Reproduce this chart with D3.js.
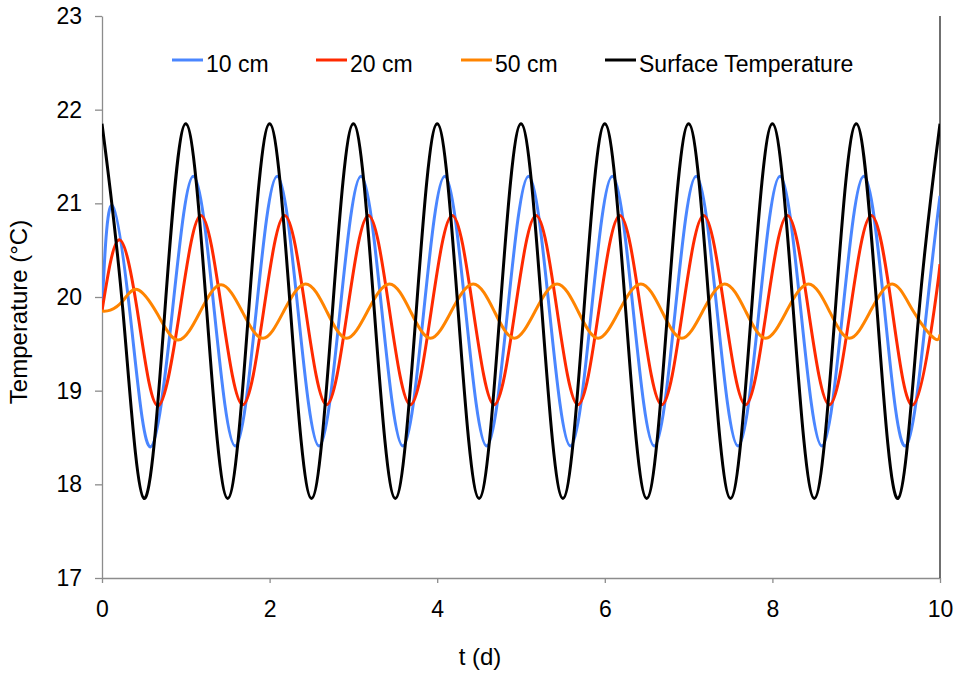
<!DOCTYPE html>
<html lang="en">
<head>
	<meta charset="utf-8" />
	<title>Temperature</title>
	<script type="text/javascript" src="https://d3js.org/d3.v7.min.js"></script>
	<style>
		body { margin: 0; background: #fff; }
		text { font-family: "Liberation Sans", Arial, sans-serif; fill: #000; }
	</style>
</head>
<body>
<div id="content"></div>
<script type="text/javascript">

	// values: [t (d), temperature (°C)]
	var surface = [
		[0,21.85],[0.25,19.85],[0.5,17.85],[0.75,19.85],
		[1,21.85],[1.25,19.85],[1.5,17.85],[1.75,19.85],
		[2,21.85],[2.25,19.85],[2.5,17.85],[2.75,19.85],
		[3,21.85],[3.25,19.85],[3.5,17.85],[3.75,19.85],
		[4,21.85],[4.25,19.85],[4.5,17.85],[4.75,19.85],
		[5,21.85],[5.25,19.85],[5.5,17.85],[5.75,19.85],
		[6,21.85],[6.25,19.85],[6.5,17.85],[6.75,19.85],
		[7,21.85],[7.25,19.85],[7.5,17.85],[7.75,19.85],
		[8,21.85],[8.25,19.85],[8.5,17.85],[8.75,19.85],
		[9,21.85],[9.25,19.85],[9.5,17.85],[9.75,19.85],
		[10,21.85]
	];

	var cm10 = [
		[0,19.85],[0.12,20.98],[0.35,19.7],[0.58,18.40],[0.84,19.85],
		[1.09,21.29],[1.34,19.85],[1.59,18.41],[1.84,19.85],
		[2.09,21.29],[2.34,19.85],[2.59,18.41],[2.84,19.85],
		[3.09,21.29],[3.34,19.85],[3.59,18.41],[3.84,19.85],
		[4.09,21.29],[4.34,19.85],[4.59,18.41],[4.84,19.85],
		[5.09,21.29],[5.34,19.85],[5.59,18.41],[5.84,19.85],
		[6.09,21.29],[6.34,19.85],[6.59,18.41],[6.84,19.85],
		[7.09,21.29],[7.34,19.85],[7.59,18.41],[7.84,19.85],
		[8.09,21.29],[8.34,19.85],[8.59,18.41],[8.84,19.85],
		[9.09,21.29],[9.34,19.85],[9.59,18.41],[9.84,19.85],
		[10,21.08]
	];

	var cm20 = [
		[0,19.85],[0.21,20.61],[0.44,19.75],[0.67,18.84],[0.93,19.86],
		[1.18,20.87],[1.43,19.86],[1.68,18.85],[1.93,19.86],
		[2.18,20.87],[2.43,19.86],[2.68,18.85],[2.93,19.86],
		[3.18,20.87],[3.43,19.86],[3.68,18.85],[3.93,19.86],
		[4.18,20.87],[4.43,19.86],[4.68,18.85],[4.93,19.86],
		[5.18,20.87],[5.43,19.86],[5.68,18.85],[5.93,19.86],
		[6.18,20.87],[6.43,19.86],[6.68,18.85],[6.93,19.86],
		[7.18,20.87],[7.43,19.86],[7.68,18.85],[7.93,19.86],
		[8.18,20.87],[8.43,19.86],[8.68,18.85],[8.93,19.86],
		[9.18,20.87],[9.43,19.86],[9.68,18.85],[9.93,19.86],
		[10,20.35]
	];

	var cm50 = [
		[0,19.85],[0.1,19.86],[0.25,19.96],[0.42,20.08],[0.66,19.82],[0.91,19.54],
		[1.17,19.84],[1.42,20.13],[1.67,19.85],[1.92,19.56],
		[2.17,19.85],[2.43,20.14],[2.68,19.85],[2.92,19.56],
		[3.17,19.85],[3.43,20.14],[3.68,19.85],[3.92,19.56],
		[4.17,19.85],[4.43,20.14],[4.68,19.85],[4.92,19.56],
		[5.17,19.85],[5.43,20.14],[5.68,19.85],[5.92,19.56],
		[6.17,19.85],[6.43,20.14],[6.68,19.85],[6.92,19.56],
		[7.17,19.85],[7.43,20.14],[7.68,19.85],[7.92,19.56],
		[8.17,19.85],[8.43,20.14],[8.68,19.85],[8.92,19.56],
		[9.17,19.85],[9.43,20.14],[9.68,19.85],[9.93,19.56],
		[10,19.6]
	];

	var seriesNames = ["10 cm", "20 cm", "50 cm", "Surface Temperature"];
	var seriesColors = ["#4a86ff", "#ff2a00", "#ff8400", "#000000"];
	var xTicks = [0, 2, 4, 6, 8, 10];
	var yTicks = [17, 18, 19, 20, 21, 22, 23];

	var series = [cm10, cm20, cm50, surface];

	var width = 958, height = 680;
	var margin = {left: 102, right: 18, top: 16, bottom: 102};

	var svg = d3.select("#content")
		.append("svg")
		.attr("width", width)
		.attr("height", height);

	var x = d3.scaleLinear()
		.domain([0, 10])
		.range([margin.left, width - margin.right]);

	var y = d3.scaleLinear()
		.domain([17, 23])
		.range([height - margin.bottom, margin.top]);

	// axes
	svg.append("g")
		.attr("transform", "translate(0," + y(17) + ")")
		.call(d3.axisBottom(x).tickValues(xTicks).tickFormat(d3.format("d"))
			.tickSize(5).tickPadding(18).tickSizeOuter(0));

	svg.append("g")
		.attr("transform", "translate(" + x(0) + ",0)")
		.call(d3.axisLeft(y).tickValues(yTicks).tickFormat(d3.format("d"))
			.tickSize(7).tickPadding(13).tickSizeOuter(0));

	svg.selectAll(".domain, .tick line").attr("stroke", "#8c8c8c").attr("stroke-width", 1.3);
	svg.selectAll(".tick text").style("font-size", "23px").attr("fill", "#000");

	// right edge of the plot area
	svg.append("line")
		.attr("x1", x(10)).attr("x2", x(10))
		.attr("y1", y(23)).attr("y2", y(17))
		.attr("stroke", "#222")
		.attr("stroke-width", 1.3);

	svg.append("clipPath")
		.attr("id", "plot")
		.append("rect")
		.attr("x", x(0)).attr("y", y(23))
		.attr("width", x(10) - x(0))
		.attr("height", y(17) - y(23));

	var line = d3.line()
		.x(function(d) { return x(d[0]); })
		.y(function(d) { return y(d[1]); })
		.curve(d3.curveNatural);

	svg.append("g")
		.attr("clip-path", "url(#plot)")
		.selectAll("path")
		.data(series)
		.enter()
		.append("path")
		.attr("d", line)
		.attr("fill", "none")
		.attr("stroke", function(d, i) { return seriesColors[i]; })
		.attr("stroke-width", 3)
		.attr("stroke-linejoin", "round");

	// legend
	var legendX = [172, 316, 461, 605];
	var legend = svg.append("g")
		.selectAll("g")
		.data(seriesNames)
		.enter()
		.append("g")
		.attr("transform", function(d, i) { return "translate(" + legendX[i] + ",60)"; });

	legend.append("line")
		.attr("x1", 0).attr("x2", 31)
		.attr("stroke", function(d, i) { return seriesColors[i]; })
		.attr("stroke-width", 3);

	legend.append("text")
		.attr("x", 34)
		.attr("y", 12)
		.style("font-size", "23px")
		.text(function(d) { return d; });

	// axis titles
	svg.append("text")
		.attr("x", 480)
		.attr("y", 665)
		.attr("text-anchor", "middle")
		.style("font-size", "24px")
		.text("t (d)");

	svg.append("text")
		.attr("transform", "translate(27,312) rotate(-90)")
		.attr("text-anchor", "middle")
		.style("font-size", "24px")
		.text("Temperature (°C)");

</script>
</body>
</html>
